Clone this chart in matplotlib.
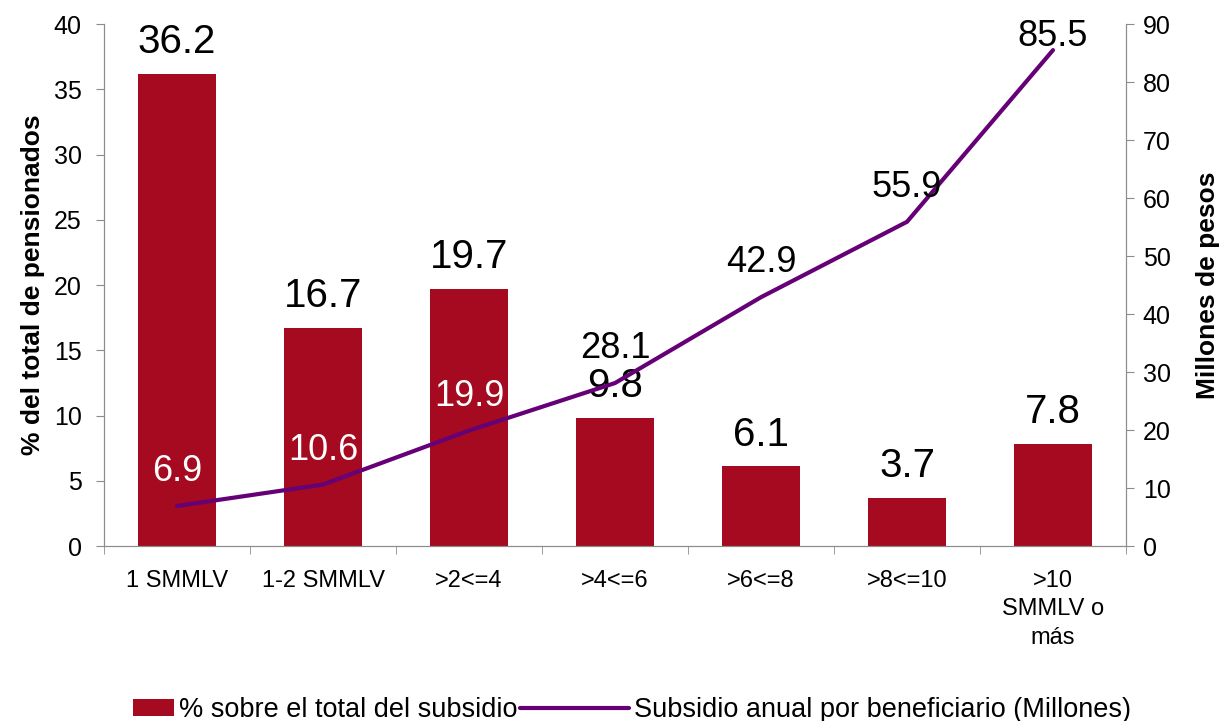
import numpy as np
import matplotlib.pyplot as plt
from matplotlib.patches import Rectangle
from matplotlib.legend_handler import HandlerPatch

plt.rcParams['font.family'] = ['Liberation Sans', 'DejaVu Sans']

categories = ['1 SMMLV', '1-2 SMMLV', '>2<=4', '>4<=6', '>6<=8', '>8<=10', '>10\nSMMLV o\nmás']
pct_subsidio = [36.2, 16.7, 19.7, 9.8, 6.1, 3.7, 7.8]
subsidio_anual = [6.9, 10.6, 19.9, 28.1, 42.9, 55.9, 85.5]

bar_color = '#A50A20'
line_color = '#660077'
grey = '#8C8C8C'

fig = plt.figure(figsize=(12.21, 7.21), dpi=100)
ax = fig.add_axes([0.0852, 0.2427, 0.8370, 0.7240])
ax2 = ax.twinx()

x = np.arange(len(categories))
bars = ax.bar(x, pct_subsidio, width=0.54, color=bar_color, zorder=2)
line, = ax2.plot(x, subsidio_anual, color=line_color, lw=3, zorder=3,
                 solid_capstyle='round',
                 label='Subsidio anual por beneficiario (Millones)')

ax.set_xlim(-0.5, len(categories) - 0.5)
ax.set_ylim(0, 40)
ax.set_yticks(np.arange(0, 41, 5))
ax2.set_ylim(0, 90)
ax2.set_yticks(np.arange(0, 91, 10))

ax.set_xticks(x)
ax.set_xticklabels(categories, fontsize=17, linespacing=1.4)
ax.set_xticks(np.arange(-0.5, len(categories), 1), minor=True)
ax.tick_params(axis='x', which='major', length=0, pad=17)
ax.tick_params(axis='x', which='minor', length=6, color=grey)
ax.tick_params(axis='y', labelsize=18, length=6, color=grey, pad=10)
ax2.tick_params(axis='y', labelsize=18, length=6, color=grey, pad=6)

for a in (ax, ax2):
    a.spines['top'].set_visible(False)
    for s in ('left', 'right', 'bottom'):
        a.spines[s].set_color(grey)

ax.set_ylabel('% del total de pensionados', fontsize=19, fontweight='bold', labelpad=6)
ax2.set_ylabel('Millones de pesos', fontsize=19, fontweight='bold', labelpad=18)

for xi, v in zip(x, pct_subsidio):
    ax.annotate(f'{v:.1f}', (xi, v), xytext=(0, 15), textcoords='offset points',
                ha='center', va='baseline', fontsize=29, color='black')

# line labels sit above each point, but are kept inside the figure at the top
fig_h = fig.get_size_inches()[1] * fig.dpi
for i, (xi, v) in enumerate(zip(x, subsidio_anual)):
    c = 'white' if i < 3 else 'black'
    py = ax2.transData.transform((xi, v))[1]
    off_px = min(25, (fig_h - 46) - py)
    ax2.annotate(f'{v:.1f}', (xi, v), xytext=(0, off_px * 72 / fig.dpi),
                 textcoords='offset points', ha='center', va='baseline',
                 fontsize=26, color=c, zorder=4)


def small_patch(legend, orig_handle, xdescent, ydescent, width, height, fontsize):
    w = width * 0.38
    return Rectangle((width - w - xdescent, -ydescent + height * 0.05), w, height * 0.9)


bar_handle = Rectangle((0, 0), 1, 1, facecolor=bar_color, label='% sobre el total del subsidio')
fig.legend(handles=[bar_handle, line], loc='center', bbox_to_anchor=(0.49, 1 - 710 / 721),
           ncol=2, frameon=False, fontsize=19.5, columnspacing=0.1,
           handlelength=4.0, handletextpad=0.2,
           handler_map={bar_handle: HandlerPatch(patch_func=small_patch)})

fig.savefig('out.png', dpi=100)
